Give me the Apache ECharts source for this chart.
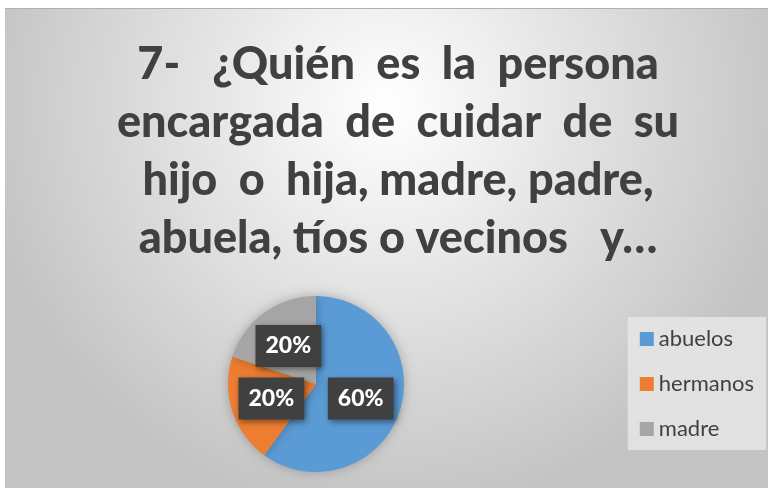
<!DOCTYPE html>
<html lang="es">
<head>
<meta charset="UTF-8" />
<title>Pregunta 7</title>
<script src="https://cdn.jsdelivr.net/npm/echarts@6/dist/echarts.min.js"></script>
<style>
  html, body { margin: 0; padding: 0; background: #fff; }
  #lienzo { width: 770px; height: 495px; }
</style>
</head>
<body>
<div id="lienzo"></div>
<script>
  // datos de la grafica
  const categorias = ['abuelos', 'hermanos', 'madre'];
  const valores = [3, 1, 1];
  const colores = ['#5B9BD5', '#ED7D31', '#A5A5A5'];
  const titulo = [
    '7-   ¿Quién  es  la  persona',
    'encargada  de  cuidar  de  su',
    'hijo  o  hija, madre, padre,',
    'abuela, tíos o vecinos   y…'
  ];

  let myChart = echarts.init(document.getElementById('lienzo'));

  myChart.setOption({
    animation: false,
    color: colores,
    graphic: [
      {
        type: 'rect',
        z: -10,
        shape: { x: 5, y: 9, width: 763, height: 479 },
        style: {
          fill: {
            type: 'radial', x: 0.5, y: 0.2, r: 0.85,
            colorStops: [
              { offset: 0, color: '#ffffff' },
              { offset: 1, color: '#c4c4c4' }
            ]
          }
        }
      },
      {
        type: 'line',
        z: -9,
        shape: { x1: 5, y1: 8.5, x2: 768, y2: 8.5 },
        style: { stroke: '#b0b0b0', lineWidth: 1 }
      }
    ],
    title: {
      text: titulo.join('\n'),
      left: 393,
      top: 30,
      textAlign: 'center',
      textStyle: {
        fontFamily: 'Lato',
        fontWeight: 900,
        fontSize: 45,
        lineHeight: 58,
        color: '#404040'
      }
    },
    legend: {
      orient: 'vertical',
      right: 4,
      top: 317,
      itemWidth: 14,
      itemHeight: 14,
      itemGap: 23,
      icon: 'rect',
      padding: [11, 12, 10, 12],
      backgroundColor: 'rgba(230,230,230,0.85)',
      textStyle: {
        fontFamily: 'Lato',
        fontSize: 22,
        color: '#404040'
      },
      data: categorias
    },
    series: [
      {
        type: 'pie',
        center: [316, 384],
        radius: 88,
        startAngle: 90,
        clockwise: true,
        itemStyle: {
          shadowBlur: 12,
          shadowColor: 'rgba(0,0,0,0.25)'
        },
        label: {
          position: 'inside',
          formatter: '{d}%',
          color: '#ffffff',
          fontFamily: 'Lato',
          fontWeight: 900,
          fontSize: 23,
          backgroundColor: '#404040',
          padding: [10, 10, 9, 10],
          shadowBlur: 6,
          shadowOffsetX: 2,
          shadowOffsetY: 2,
          shadowColor: 'rgba(0,0,0,0.45)'
        },
        labelLine: { show: false },
        emphasis: { disabled: true },
        data: categorias.map((c, i) => ({ name: c, value: valores[i] }))
      }
    ]
  });
</script>
</body>
</html>
